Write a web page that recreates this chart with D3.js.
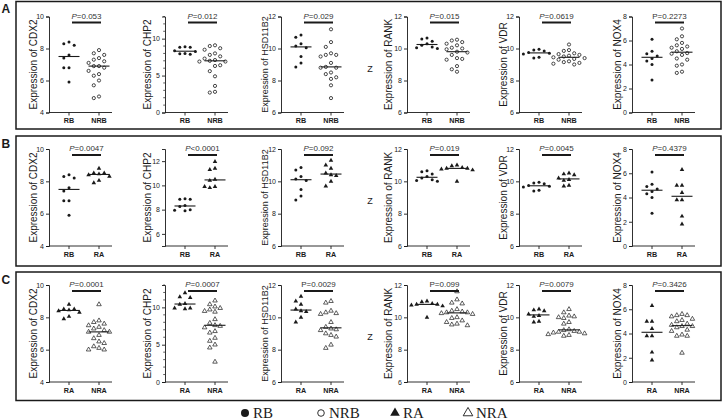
<!DOCTYPE html>
<html><head><meta charset="utf-8">
<script src="https://cdn.jsdelivr.net/npm/d3@7"></script>
<style>body{margin:0;background:#fff}svg{display:block}</style>
</head><body><svg id="c" width="724" height="419"></svg>
<script>
// ---------------- DATA ----------------
const genes = ["CDX2", "CHP2", "HSD11B2", "RANK", "VDR", "NOX4"];

const CDX2_RB  = [8.4, 8.3, 8.2, 7.6, 7.4, 6.8, 6.8, 5.9];
const CDX2_NRB = [7.9, 7.7, 7.6, 7.4, 7.3, 7.2, 7.1, 6.9, 6.9, 6.8, 6.6, 6.4, 6.3, 6.0, 5.7, 5.0, 4.9];
const CDX2_RA  = [8.8, 8.5, 8.5, 8.45, 8.4, 8.3, 8.05, 7.9];
const CDX2_NRA = [8.8, 7.8, 7.7, 7.6, 7.5, 7.4, 7.3, 7.2, 7.1, 7.1, 6.9, 6.7, 6.5, 6.4, 6.2, 6.1, 6.0, 6.0];

const CHP2_RB  = [8.9, 8.85, 8.85, 8.35, 8.25, 8.0, 7.95, 7.9];
const CHP2_NRB = [9.1, 9.0, 8.7, 8.5, 8.0, 7.8, 7.6, 7.3, 7.1, 7.0, 6.9, 6.9, 6.4, 6.3, 5.6, 4.9, 3.6, 2.8, 2.7];
const CHP2_RA  = [11.95, 11.4, 11.3, 10.5, 10.4, 9.9, 9.9, 9.8];
const CHP2_NRA = [10.9, 10.4, 10.1, 9.9, 9.7, 9.5, 9.4, 8.4, 7.9, 7.6, 7.5, 7.3, 6.8, 6.6, 5.9, 5.5, 5.0, 4.6, 2.7];

const HSD11B2_RB  = [10.85, 10.7, 10.3, 10.15, 10.05, 9.5, 9.1, 8.85];
const HSD11B2_NRB = [11.2, 10.4, 10.1, 9.7, 9.6, 9.6, 9.5, 9.1, 8.85, 8.8, 8.8, 8.5, 8.4, 8.2, 8.1, 7.7, 6.9];
const HSD11B2_RA  = [11.3, 11.0, 10.8, 10.5, 10.4, 10.35, 10.0, 9.7];
const HSD11B2_NRA = [11.0, 10.9, 10.4, 10.3, 10.25, 10.2, 9.7, 9.4, 9.3, 9.25, 9.2, 9.0, 8.9, 8.8, 8.3, 8.1];

const RANK_RB  = [10.65, 10.6, 10.45, 10.3, 10.2, 10.1, 10.05, 10.0];
const RANK_NRB = [10.55, 10.5, 10.4, 10.3, 10.2, 10.05, 10.0, 9.95, 9.8, 9.75, 9.6, 9.4, 9.35, 9.3, 8.9, 8.7, 8.55];
const RANK_RA  = [11.0, 10.95, 10.85, 10.8, 10.8, 10.75, 10.7, 10.0];
const RANK_NRA = [11.6, 11.1, 10.9, 10.85, 10.5, 10.4, 10.35, 10.3, 10.3, 10.25, 10.2, 10.0, 9.95, 9.8, 9.7, 9.6, 9.55, 9.5];

const VDR_RB  = [9.95, 9.9, 9.85, 9.75, 9.7, 9.65, 9.45, 9.4];
const VDR_NRB = [10.25, 9.9, 9.85, 9.7, 9.65, 9.6, 9.55, 9.5, 9.45, 9.4, 9.35, 9.3, 9.2, 9.15, 9.1, 9.05, 9.0];
const VDR_RA  = [10.5, 10.45, 10.4, 10.2, 10.1, 10.05, 9.75, 9.7];
const VDR_NRA = [10.5, 10.3, 10.1, 10.05, 10.0, 9.95, 9.7, 9.6, 9.25, 9.2, 9.15, 9.1, 9.1, 9.05, 9.0, 8.95, 8.9, 8.85];

const NOX4_RB  = [6.1, 5.1, 4.9, 4.7, 4.5, 4.3, 4.0, 2.7];
const NOX4_NRB = [7.0, 6.35, 6.1, 5.8, 5.6, 5.5, 5.4, 5.3, 5.1, 4.95, 4.9, 4.8, 4.5, 4.4, 4.0, 3.9, 3.4, 3.3];
const NOX4_RA  = [6.3, 5.0, 5.0, 4.4, 3.8, 3.8, 2.45, 1.8];
const NOX4_NRA = [5.6, 5.5, 5.5, 5.4, 5.2, 5.1, 5.0, 4.8, 4.7, 4.6, 4.6, 4.5, 4.3, 4.2, 3.9, 3.8, 3.8, 2.4];

const rowLetters = ["A", "B", "C"];
const rowGroups = [["RB", "NRB"], ["RB", "RA"], ["RA", "NRA"]];

const pA = ["=0.053", "=0.012", "=0.029", "=0.015", "=0.0619", "=0.2273"];
const pB = ["=0.0047", "<0.0001", "=0.092", "=0.019", "=0.0045", "=0.4379"];
const pC = ["=0.0001", "=0.0007", "=0.0029", "=0.099", "=0.0079", "=0.3426"];
const italA = [true, true, true, true, true, false];
const italB = [true, true, true, true, true, true];
const italC = [true, true, false, false, true, true];

const domainsA = [[4, 10], [0, 13], [6, 12], [6, 12], [6, 12], [0, 8]];
const domainsB = [[4, 10], [5, 13], [6, 12], [6, 12], [6, 12], [0, 8]];
const domainsC = [[4, 10], [0, 13], [6, 12], [6, 12], [6, 12], [0, 8]];
const ticksA = [[4, 6, 8, 10], [0, 5, 10], [6, 8, 10, 12], [6, 8, 10, 12], [6, 8, 10, 12], [0, 2, 4, 6, 8]];
const ticksB = [[4, 6, 8, 10], [6, 8, 10, 12], [6, 8, 10, 12], [6, 8, 10, 12], [6, 8, 10, 12], [0, 2, 4, 6, 8]];
const ticksC = ticksA;

const legendLabels = ["RB", "NRB", "RA", "NRA"];

// ---------------- TABLES ----------------
const table = {
  CDX2: {RB: CDX2_RB, NRB: CDX2_NRB, RA: CDX2_RA, NRA: CDX2_NRA},
  CHP2: {RB: CHP2_RB, NRB: CHP2_NRB, RA: CHP2_RA, NRA: CHP2_NRA},
  HSD11B2: {RB: HSD11B2_RB, NRB: HSD11B2_NRB, RA: HSD11B2_RA, NRA: HSD11B2_NRA},
  RANK: {RB: RANK_RB, NRB: RANK_NRB, RA: RANK_RA, NRA: RANK_NRA},
  VDR: {RB: VDR_RB, NRB: VDR_NRB, RA: VDR_RA, NRA: VDR_NRA},
  NOX4: {RB: NOX4_RB, NRB: NOX4_NRB, RA: NOX4_RA, NRA: NOX4_NRA}
};
const pRows = [pA, pB, pC], italRows = [italA, italB, italC];
const domRows = [domainsA, domainsB, domainsC], tickRows = [ticksA, ticksB, ticksC];

// ---------------- LAYOUT ----------------
const W = 724, H = 419;
const axisX = [49, 165, 281, 407, 519, 632];
const labelOff = [-16, -18, -16, -19, -16, -15];
const labelSize = [10, 10, 9, 10, 10, 10];
const rowTop = [16.5, 149, 285], rowBot = [112.5, 246, 382];
const boxY = [1.5, 136, 272], boxH = [127.5, 130, 128.5];
const FONT = "'Liberation Sans', Arial, sans-serif";
const INK = "#1a1a1a";

const svg = d3.select("#c");
svg.append("rect").attr("width", W).attr("height", H).attr("fill", "#fff");

const triPath = d3.symbol(d3.symbolTriangle).size(9)();

function swarm(vals, y, cx, step, minD) {
  const pts = vals.map(v => ({v, y: y(v)})).sort((a, b) => a.y - b.y);
  const placed = [];
  for (const p of pts) {
    for (let k = 0; k < 30; k++) {
      const off = k === 0 ? 0 : (k % 2 ? -1 : 1) * Math.ceil(k / 2) * step;
      const x = cx + off;
      if (placed.every(q => Math.hypot(q.x - x, q.y - p.y) >= minD)) { p.x = x; break; }
    }
    placed.push(p);
  }
  return placed;
}

function drawMarker(g, grp, x, y) {
  if (grp === "RB") g.append("circle").attr("cx", x).attr("cy", y).attr("r", 1.5).attr("fill", INK);
  else if (grp === "NRB") g.append("circle").attr("cx", x).attr("cy", y).attr("r", 1.6).attr("fill", "#fff").attr("stroke", INK).attr("stroke-width", 0.8);
  else if (grp === "RA") g.append("path").attr("d", triPath).attr("transform", `translate(${x},${y})`).attr("fill", INK);
  else g.append("path").attr("d", triPath).attr("transform", `translate(${x},${y})`).attr("fill", "#fff").attr("stroke", INK).attr("stroke-width", 0.7);
}

// boxes & row letters
for (let r = 0; r < 3; r++) {
  svg.append("rect").attr("x", 16).attr("y", boxY[r]).attr("width", 705).attr("height", boxH[r])
    .attr("fill", "none").attr("stroke", INK).attr("stroke-width", 1.5);
  svg.append("text").attr("x", 1.5).attr("y", boxY[r] + 11.5).attr("font-family", FONT)
    .attr("font-weight", "bold").attr("font-size", 12).attr("fill", INK).text(rowLetters[r]);
}

for (let r = 0; r < 3; r++) {
  genes.forEach((gene, i) => {
    const ax = axisX[i];
    const y = d3.scaleLinear().domain(domRows[r][i]).range([rowBot[r], rowTop[r]]);
    const groups = rowGroups[r];
    const x = d3.scalePoint().domain(groups).range([ax + 20, ax + 50]);
    const g = svg.append("g");

    // y axis
    const ya = g.append("g").attr("transform", `translate(${ax},0)`)
      .call(d3.axisLeft(y).tickValues(tickRows[r][i]).tickSize(3).tickPadding(2).tickFormat(d3.format("d")));
    ya.select(".domain").attr("stroke", INK).attr("stroke-width", 0.9);
    ya.selectAll(".tick line").attr("stroke", INK).attr("stroke-width", 0.9);
    ya.selectAll("text").attr("font-family", FONT).attr("font-size", 7).attr("fill", INK);
    if (gene === "CHP2" && r !== 1) {
      const minor = d3.range(domRows[r][i][0], domRows[r][i][1] + 1).filter(v => v % 5 !== 0);
      g.selectAll(null).data(minor).join("line")
        .attr("x1", ax - 1.8).attr("x2", ax).attr("y1", d => y(d)).attr("y2", d => y(d))
        .attr("stroke", INK).attr("stroke-width", 0.7);
    }

    // x axis
    g.append("line").attr("x1", ax).attr("x2", ax + 63).attr("y1", rowBot[r]).attr("y2", rowBot[r])
      .attr("stroke", INK).attr("stroke-width", 0.9);
    groups.forEach(grp => {
      g.append("line").attr("x1", x(grp)).attr("x2", x(grp)).attr("y1", rowBot[r]).attr("y2", rowBot[r] + 3)
        .attr("stroke", INK).attr("stroke-width", 0.9);
      g.append("text").attr("x", x(grp)).attr("y", rowBot[r] + 10.5).attr("text-anchor", "middle")
        .attr("font-family", FONT).attr("font-size", 7.2).attr("font-weight", "bold").attr("fill", INK).text(grp);
    });

    // y label
    const ly = (rowTop[r] + rowBot[r]) / 2;
    g.append("text").attr("transform", `translate(${ax + labelOff[i]},${ly}) rotate(-90)`)
      .attr("text-anchor", "middle").attr("font-family", FONT).attr("font-size", labelSize[i]).attr("fill", INK)
      .attr("dy", "0.35em").text("Expression of " + gene);

    if (gene === "RANK") {
      g.append("text").attr("x", 370).attr("y", rowTop[r] + 55).attr("text-anchor", "middle")
        .attr("font-family", FONT).attr("font-size", 9).attr("fill", INK).text("Z");
    }

    // points + median
    groups.forEach(grp => {
      const vals = table[gene][grp];
      const pts = swarm(vals, y, x(grp), 5.2, 5.2);
      pts.forEach(p => drawMarker(g, grp, p.x, p.y));
      const med = d3.median(vals);
      g.append("line").attr("x1", x(grp) - 10.5).attr("x2", x(grp) + 10.5)
        .attr("y1", y(med)).attr("y2", y(med)).attr("stroke", INK).attr("stroke-width", 1.1);
    });

    // significance bar and p-value
    const lineY = rowTop[r] + 6;
    const x1 = x(groups[0]) + 3, x2 = x(groups[1]) + 2;
    g.append("line").attr("x1", x1).attr("x2", x2).attr("y1", lineY).attr("y2", lineY)
      .attr("stroke", INK).attr("stroke-width", 2);
    const t = g.append("text").attr("x", (x1 + x2) / 2).attr("y", lineY - 4).attr("text-anchor", "middle")
      .attr("font-family", FONT).attr("font-size", 8).attr("fill", "#333");
    t.append("tspan").attr("font-style", italRows[r][i] ? "italic" : "normal").text("P");
    t.append("tspan").text(pRows[r][i]);
  });
}

// legend
const lg = svg.append("g");
const legX = [245, 321, 395, 468];
const legY = 413;
const legTri = d3.symbol(d3.symbolTriangle).size(40)();
legendLabels.forEach((lab, k) => {
  const cx = legX[k];
  if (lab === "RB") lg.append("circle").attr("cx", cx).attr("cy", legY).attr("r", 4).attr("fill", INK);
  else if (lab === "NRB") lg.append("circle").attr("cx", cx).attr("cy", legY).attr("r", 3.3).attr("fill", "none").attr("stroke", INK).attr("stroke-width", 0.9);
  else if (lab === "RA") lg.append("path").attr("d", legTri).attr("transform", `translate(${cx},${legY})`).attr("fill", INK);
  else lg.append("path").attr("d", legTri).attr("transform", `translate(${cx},${legY})`).attr("fill", "none").attr("stroke", INK).attr("stroke-width", 0.9);
  lg.append("text").attr("x", cx + 8).attr("y", 417.5).attr("font-family", "'Liberation Serif', 'Times New Roman', serif")
    .attr("font-size", 15).attr("fill", INK).text(lab);
});
</script></body></html>
